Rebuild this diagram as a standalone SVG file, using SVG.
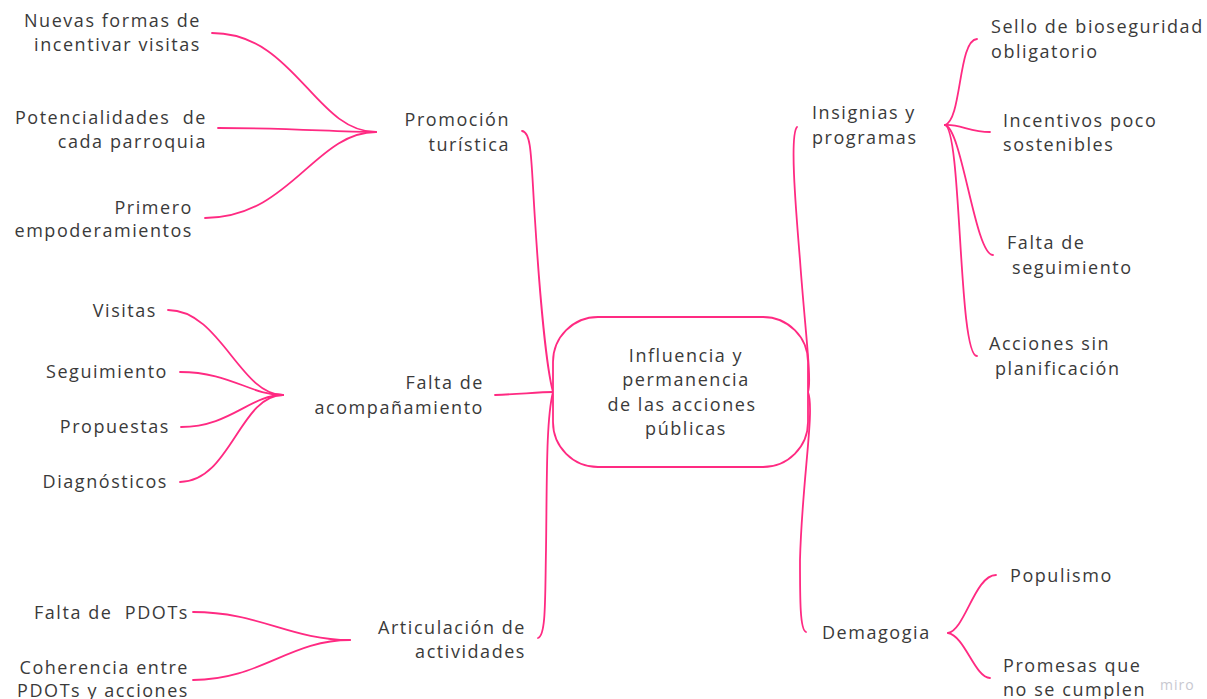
<svg xmlns="http://www.w3.org/2000/svg" width="1207" height="699" viewBox="0 0 1207 699">
<style>
.t{font-family:"Open Sans","Noto Sans",sans-serif;font-size:18px;fill:#3a3a3a;letter-spacing:1.55px;white-space:pre}
.r{text-anchor:end}
.c{text-anchor:middle}
.ln{fill:none;stroke:#ff2a82;stroke-width:1.8;stroke-linecap:round}
</style>
<rect width="1207" height="699" fill="#fff"/>
<g id="connectors">
<path class="ln" d="M212,33 C295,33 315,132 376,132"/>
<path class="ln" d="M218,128 C300,128 330,132 376,132"/>
<path class="ln" d="M205,218 C290,218 315,132 376,132"/>
<path class="ln" d="M168,310 C220,310 240,395 283,395"/>
<path class="ln" d="M180,372 C230,372 250,395 283,395"/>
<path class="ln" d="M181,427 C230,427 250,395 283,395"/>
<path class="ln" d="M180,482 C230,482 240,395 283,395"/>
<path class="ln" d="M193,612 C260,612 290,640 350,640"/>
<path class="ln" d="M193,680 C260,680 290,640 350,640"/>
<path class="ln" d="M522,131 C532,132 531,160 535,220 C540,300 547,370 553,392"/>
<path class="ln" d="M495,395 C520,394 540,392 553,392"/>
<path class="ln" d="M538,638 C546,636 545,600 546,550 C547,480 546,420 553,392"/>
<path class="ln" d="M797,127 C790,135 795,200 800,260 C805,330 812,380 808,392"/>
<path class="ln" d="M806,632 C800,630 800,600 800,560 C802,480 815,410 808,392"/>
<path class="ln" d="M945,125 C962,120 958,40 977,39"/>
<path class="ln" d="M945,125 C960,124 970,132 990,132"/>
<path class="ln" d="M945,125 C962,128 975,255 993,255"/>
<path class="ln" d="M945,125 C962,130 958,356 977,356"/>
<path class="ln" d="M948,633 C965,630 975,575 996,575"/>
<path class="ln" d="M948,633 C965,636 975,678 990,678"/>
</g>
<g id="center">
<rect x="553" y="317" width="255" height="150" rx="45" fill="#fff" stroke="#ff2a82" stroke-width="1.8"/>
<text class="t c" x="686" y="362">Influencia y</text>
<text class="t c" x="686" y="386">permanencia</text>
<text class="t c" x="682" y="411">de las acciones</text>
<text class="t c" x="686" y="435">públicas</text>
</g>
<g id="promocion"><text class="t r" x="510" y="126">Promoción</text><text class="t r" x="510" y="151">turística</text></g>
<g id="falta-acomp"><text class="t r" x="484" y="389">Falta de</text><text class="t r" x="484" y="414">acompañamiento</text></g>
<g id="articulacion"><text class="t r" x="526" y="634">Articulación de</text><text class="t r" x="526" y="658">actividades</text></g>
<g id="nuevas"><text class="t r" x="201" y="27">Nuevas formas de</text><text class="t r" x="201" y="51">incentivar visitas</text></g>
<g id="potencialidades"><text class="t r" x="207" y="124">Potencialidades  de</text><text class="t r" x="207" y="148">cada parroquia</text></g>
<g id="primero"><text class="t r" x="193" y="214">Primero</text><text class="t r" x="193" y="237">empoderamientos</text></g>
<g id="visitas"><text class="t r" x="157" y="317">Visitas</text></g>
<g id="seguimiento"><text class="t r" x="168" y="378">Seguimiento</text></g>
<g id="propuestas"><text class="t r" x="170" y="433">Propuestas</text></g>
<g id="diagnosticos"><text class="t r" x="168" y="488">Diagnósticos</text></g>
<g id="falta-pdots"><text class="t r" x="189" y="619">Falta de  PDOTs</text></g>
<g id="coherencia"><text class="t r" x="189" y="674">Coherencia entre</text><text class="t r" x="189" y="697">PDOTs y acciones</text></g>
<g id="insignias"><text class="t" x="812" y="119">Insignias y</text><text class="t" x="812" y="144">programas</text></g>
<g id="demagogia"><text class="t" x="822" y="639">Demagogia</text></g>
<g id="sello"><text class="t" x="991" y="33">Sello de bioseguridad</text><text class="t" x="991" y="58">obligatorio</text></g>
<g id="incentivos"><text class="t" x="1003" y="127">Incentivos poco</text><text class="t" x="1003" y="151">sostenibles</text></g>
<g id="falta-seg"><text class="t" x="1007" y="249">Falta de</text><text class="t" x="1012" y="274">seguimiento</text></g>
<g id="acciones"><text class="t" x="989" y="350">Acciones sin</text><text class="t" x="995" y="375">planificación</text></g>
<g id="populismo"><text class="t" x="1010" y="582">Populismo</text></g>
<g id="promesas"><text class="t" x="1003" y="672">Promesas que</text><text class="t" x="1003" y="696">no se cumplen</text></g>
<text x="1160" y="690" font-family="'Open Sans',sans-serif" font-size="14" fill="#c8c8d0" letter-spacing="1">miro</text>
</svg>
